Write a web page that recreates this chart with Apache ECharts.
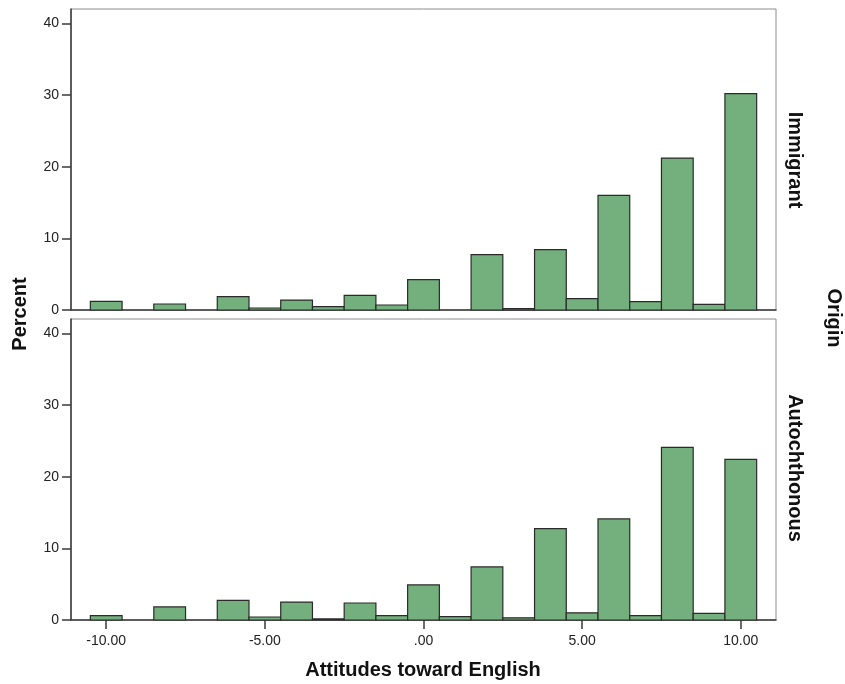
<!DOCTYPE html>
<html>
<head>
<meta charset="utf-8">
<script src="https://cdn.jsdelivr.net/npm/echarts@6/dist/echarts.min.js"></script>
<style>
  html, body { margin: 0; padding: 0; background: #ffffff; }
  #chart { width: 845px; height: 684px; }
</style>
</head>
<body>
<div id="chart"></div>
<script>
// Bin centres of the histogram (bin width 1)
const binCenters = [-10, -9, -8, -7, -6, -5, -4, -3, -2, -1, 0, 1, 2, 3, 4, 5, 6, 7, 8, 9, 10];

// Percent per bin, by origin
const immigrantPct = [1.2, 0, 0.84, 0, 1.86, 0.28, 1.38, 0.46, 2.04, 0.7, 4.23, 0, 7.72, 0.2, 8.42, 1.58, 16.0, 1.16, 21.2, 0.78, 30.2];
const autochthonousPct = [0.6, 0, 1.82, 0, 2.74, 0.42, 2.5, 0.15, 2.37, 0.6, 4.89, 0.46, 7.4, 0.3, 12.75, 1.0, 14.1, 0.6, 24.1, 0.92, 22.4];

// Panel names and axis ticks
const panelNames = ['Immigrant', 'Autochthonous'];
const xTicks = [-10, -5, 0, 5, 10];
const xTickLabels = ['-10.00', '-5.00', '.00', '5.00', '10.00'];
const yTicks = [0, 10, 20, 30, 40];

const FONT = '"Liberation Sans", Arial, sans-serif';
const BAR_FILL = '#74b07d';
const BAR_EDGE = '#2a2a2a';
const AXIS_DARK = '#3a3a3a';

function toPairs(values) {
  return binCenters.map((c, i) => [c, values[i]]);
}

function renderBin(params, api) {
  const c = api.value(0);
  const v = api.value(1);
  if (!(v > 0)) return null;
  const topLeft = api.coord([c - 0.5, v]);
  const bottomRight = api.coord([c + 0.5, 0]);
  return {
    type: 'rect',
    shape: {
      x: topLeft[0],
      y: topLeft[1],
      width: bottomRight[0] - topLeft[0],
      height: bottomRight[1] - topLeft[1]
    },
    style: { fill: BAR_FILL, stroke: BAR_EDGE, lineWidth: 1.2 }
  };
}

const chart = echarts.init(document.getElementById('chart'), null, { renderer: 'canvas' });

const gridBase = { left: 71, right: 69, height: 301, show: true, borderColor: '#8c8c8c', borderWidth: 1, backgroundColor: 'transparent' };

function xAxisFor(gridIndex, withLabels) {
  return {
    type: 'value',
    gridIndex: gridIndex,
    min: -11.11,
    max: 11.11,
    splitLine: { show: false },
    axisLine: { show: true, onZero: false, lineStyle: { color: AXIS_DARK, width: 1.5 } },
    axisTick: {
      show: withLabels,
      customValues: xTicks,
      length: 9,
      lineStyle: { color: AXIS_DARK, width: 1.5 }
    },
    axisLabel: {
      show: withLabels,
      customValues: xTicks,
      margin: 14,
      color: '#222',
      fontFamily: FONT,
      fontSize: 14,
      formatter: (val) => {
        const i = xTicks.indexOf(Math.round(val));
        return i >= 0 ? xTickLabels[i] : '';
      }
    }
  };
}

function yAxisFor(gridIndex) {
  return {
    type: 'value',
    gridIndex: gridIndex,
    min: 0,
    max: 42,
    splitLine: { show: false },
    axisLine: { show: true, onZero: false, lineStyle: { color: AXIS_DARK, width: 1.5 } },
    axisTick: { show: true, customValues: yTicks, length: 9, lineStyle: { color: AXIS_DARK, width: 1.5 } },
    axisLabel: { show: true, customValues: yTicks, margin: 12, color: '#222', fontFamily: FONT, fontSize: 14 }
  };
}

const titleStyle = { fill: '#111', font: 'bold 20px ' + FONT, textAlign: 'center', textVerticalAlign: 'middle' };

const option = {
  animation: false,
  backgroundColor: '#ffffff',
  grid: [
    Object.assign({ top: 9 }, gridBase),
    Object.assign({ top: 319 }, gridBase)
  ],
  xAxis: [xAxisFor(0, false), xAxisFor(1, true)],
  yAxis: [yAxisFor(0), yAxisFor(1)],
  series: [
    { type: 'custom', name: panelNames[0], xAxisIndex: 0, yAxisIndex: 0, renderItem: renderBin, data: toPairs(immigrantPct), z: 1 },
    { type: 'custom', name: panelNames[1], xAxisIndex: 1, yAxisIndex: 1, renderItem: renderBin, data: toPairs(autochthonousPct), z: 1 }
  ],
  graphic: [
    { type: 'text', x: 20, y: 314, rotation: Math.PI / 2, style: Object.assign({ text: 'Percent' }, titleStyle) },
    { type: 'text', x: 423, y: 670, style: Object.assign({ text: 'Attitudes toward English' }, titleStyle) },
    { type: 'text', x: 795, y: 160, rotation: -Math.PI / 2, style: Object.assign({ text: panelNames[0] }, titleStyle) },
    { type: 'text', x: 795, y: 468, rotation: -Math.PI / 2, style: Object.assign({ text: panelNames[1] }, titleStyle) },
    { type: 'text', x: 834, y: 318, rotation: -Math.PI / 2, style: Object.assign({ text: 'Origin' }, titleStyle) }
  ]
};

chart.setOption(option);
</script>
</body>
</html>
